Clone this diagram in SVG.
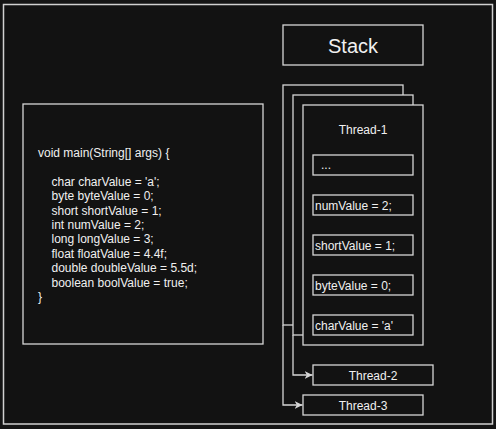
<svg xmlns="http://www.w3.org/2000/svg" width="496" height="429" viewBox="0 0 496 429">
<style>
.box{fill:#121212;stroke:#d6d6d6;stroke-width:1.3}
.t{font-family:"Liberation Sans",Arial,sans-serif;font-size:12px;fill:#f0f0f0}
.c{text-anchor:middle}
.conn{fill:none;stroke:#d6d6d6;stroke-width:1.3}
</style>
<defs>
<marker id="arr" viewBox="0 0 10 10" refX="10" refY="5" markerWidth="8" markerHeight="8" markerUnits="userSpaceOnUse" orient="auto">
<path d="M0,0 L10,5 L0,10 L3,5 Z" fill="#d6d6d6"/>
</marker>
</defs>
<rect x="0" y="0" width="496" height="429" fill="#141414"/>
<rect x="3.5" y="4.5" width="489" height="419.5" fill="#121212" stroke="#d0d0d0" stroke-width="1.5"/>
<g id="stack-title">
<rect class="box" x="283" y="25" width="140" height="40"/>
<text class="t c" x="353" y="52.5" style="font-size:20px">Stack</text>
</g>
<g id="code">
<rect class="box" x="23" y="104" width="240" height="240"/>
<text class="t" x="38" y="157">void main(String[] args) {</text>
<text class="t" x="51.5" y="185.5">char charValue = 'a';</text>
<text class="t" x="51.5" y="200">byte byteValue = 0;</text>
<text class="t" x="51.5" y="214.5">short shortValue = 1;</text>
<text class="t" x="51.5" y="229">int numValue = 2;</text>
<text class="t" x="51.5" y="243">long longValue = 3;</text>
<text class="t" x="51.5" y="257.5">float floatValue = 4.4f;</text>
<text class="t" x="51.5" y="272">double doubleValue = 5.5d;</text>
<text class="t" x="51.5" y="286.5">boolean boolValue = true;</text>
<text class="t" x="38" y="300.5">}</text>
</g>
<g id="connectors">
<path class="conn" d="M283,325 L283,405 L302.5,405" marker-end="url(#arr)"/>
<path class="conn" d="M293,335 L293,375 L312.5,375" marker-end="url(#arr)"/>
</g>
<g id="thread-back">
<rect class="box" x="283" y="85" width="120" height="240"/>
</g>
<g id="thread-mid">
<rect class="box" x="293" y="95" width="120" height="240"/>
</g>
<g id="thread-1">
<rect class="box" x="303" y="105" width="120" height="240"/>
<text class="t c" x="363" y="134">Thread-1</text>
</g>
<g id="frame-dots">
<rect class="box" x="313" y="155" width="100" height="20"/>
<text class="t" x="321" y="169">...</text>
</g>
<g id="frame-num">
<rect class="box" x="313" y="195" width="100" height="20"/>
<text class="t" x="315" y="209.5">numValue = 2;</text>
</g>
<g id="frame-short">
<rect class="box" x="313" y="235" width="100" height="20"/>
<text class="t" x="315" y="249.5">shortValue = 1;</text>
</g>
<g id="frame-byte">
<rect class="box" x="313" y="275" width="100" height="20"/>
<text class="t" x="315" y="289.5">byteValue = 0;</text>
</g>
<g id="frame-char">
<rect class="box" x="313" y="315" width="100" height="20"/>
<text class="t" x="315" y="329.5">charValue = 'a'</text>
</g>
<g id="thread-2">
<rect class="box" x="313" y="365" width="120" height="20"/>
<text class="t c" x="373" y="379.5">Thread-2</text>
</g>
<g id="thread-3">
<rect class="box" x="303" y="395" width="120" height="20"/>
<text class="t c" x="363" y="409.5">Thread-3</text>
</g>
</svg>
